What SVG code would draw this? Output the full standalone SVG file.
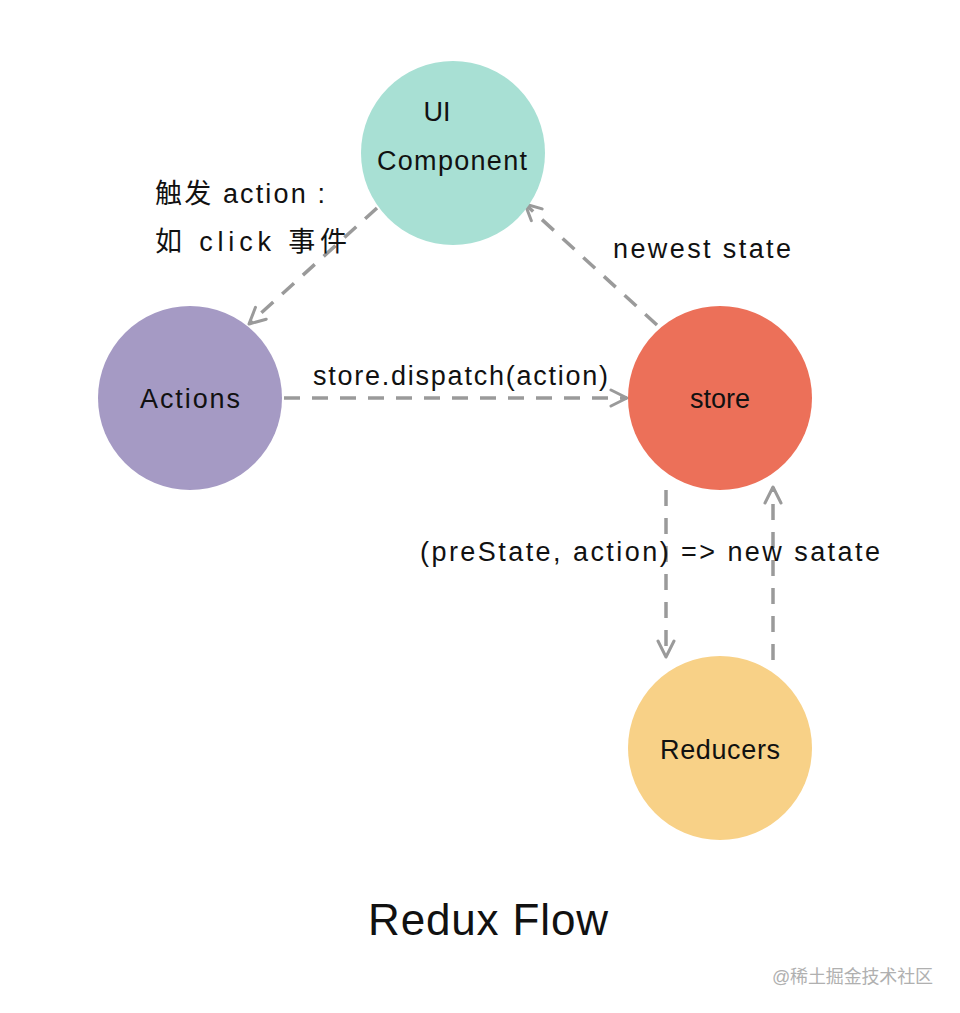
<svg xmlns="http://www.w3.org/2000/svg" width="960" height="1013" viewBox="0 0 960 1013">
<defs>
<marker id="arr" viewBox="0 0 20 20" refX="18" refY="10" markerWidth="20" markerHeight="20" markerUnits="userSpaceOnUse" orient="auto">
<path d="M2,2 L18,10 L2,18" fill="none" stroke="#9a9a9a" stroke-width="3" stroke-linecap="round" stroke-linejoin="round"/>
</marker>
<style>
.t{font-family:"Liberation Sans","Noto Sans CJK SC",sans-serif;fill:#111;font-size:27px}
.c{stroke:#9a9a9a;stroke-width:3.5;stroke-dasharray:16 12;fill:none;marker-end:url(#arr)}
</style>
</defs>
<rect width="960" height="1013" fill="#fff"/>
<g id="connectors">
<line class="c" x1="377" y1="208" x2="249" y2="324"/>
<line class="c" x1="284" y1="398" x2="627" y2="398"/>
<line class="c" x1="657" y1="325" x2="525" y2="204"/>
<line class="c" x1="666" y1="490" x2="666" y2="657"/>
<line class="c" x1="773" y1="660" x2="773" y2="487"/>
</g>
<g id="ui">
<circle cx="453" cy="153" r="92" fill="#a8e0d4"/>
<text class="t" x="437" y="121" text-anchor="middle">UI</text>
<text class="t" x="452" y="170" text-anchor="middle" textLength="150">Component</text>
</g>
<g id="actions">
<circle cx="190" cy="398" r="92" fill="#a59ac4"/>
<text class="t" x="190" y="408" text-anchor="middle" textLength="100">Actions</text>
</g>
<g id="store">
<circle cx="720" cy="398" r="92" fill="#ec7059"/>
<text class="t" x="720" y="408" text-anchor="middle">store</text>
</g>
<g id="reducers">
<circle cx="720" cy="748" r="92" fill="#f8d187"/>
<text class="t" x="720" y="759" text-anchor="middle" textLength="120">Reducers</text>
</g>
<g id="labels">
<text class="t" x="155" y="203" textLength="170">触发 action :</text>
<text class="t" x="155" y="251" textLength="192">如 click 事件</text>
<text class="t" x="613" y="258" textLength="178">newest state</text>
<text class="t" x="313" y="385" textLength="295">store.dispatch(action)</text>
<text class="t" x="420" y="561" textLength="460">(preState, action) =&gt; new satate</text>
</g>
<text x="488" y="935" text-anchor="middle" font-family="Liberation Sans, sans-serif" font-size="44" fill="#111" textLength="240">Redux Flow</text>
<text x="772" y="983" font-family="Liberation Sans, Noto Sans CJK SC, sans-serif" font-size="18" fill="#b0b0b0" textLength="161">@稀土掘金技术社区</text>
</svg>
